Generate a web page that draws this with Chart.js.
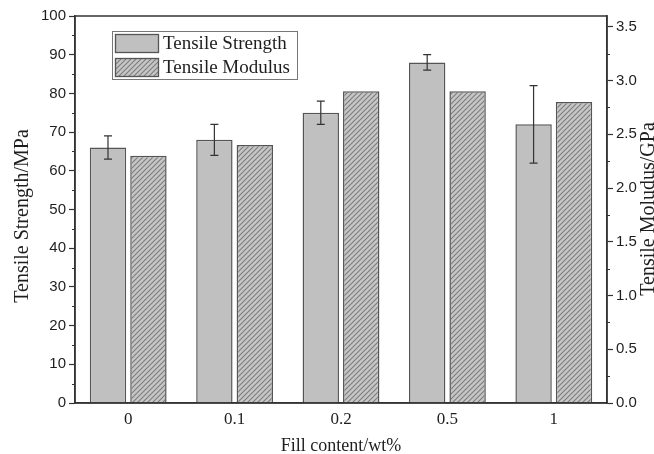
<!DOCTYPE html>
<html>
<head>
<meta charset="utf-8">
<title>Tensile Strength and Modulus vs Fill content</title>
<script src="https://cdn.jsdelivr.net/npm/chart.js"></script>
<style>
    html, body { margin: 0; padding: 0; background: #fff; overflow: hidden; }
    #chart { display: block; }
</style>
</head>
<body>
<canvas id="chart" width="654" height="454"></canvas>
<script>
    // values
    const fillContent = ['0', '0.1', '0.2', '0.5', '1'];
    const strength = [66, 68, 75, 88, 72];        // MPa
    const strengthErr = [3, 4, 3, 2, 10];         // MPa, +/-
    const modulus = [2.3, 2.4, 2.9, 2.9, 2.8];    // GPa

    // axis ticks
    const leftTicks = [0, 10, 20, 30, 40, 50, 60, 70, 80, 90, 100];
    const leftMinor = [5, 15, 25, 35, 45, 55, 65, 75, 85, 95];
    const rightTicks = [0, 0.5, 1.0, 1.5, 2.0, 2.5, 3.0, 3.5];
    const rightMinor = [0.25, 0.75, 1.25, 1.75, 2.25, 2.75, 3.25];

    const AXIS = '#333';
    const TEXT = '#1e1e1e';
    const SERIF = "'Liberation Serif', 'Times New Roman', serif";
    const SANS = "'Liberation Sans', Arial, sans-serif";

    // diagonal hatch for the modulus bars
    function makeHatch() {
        const c = document.createElement('canvas');
        c.width = 5; c.height = 5;
        const g = c.getContext('2d');
        g.fillStyle = '#c6c6c6';
        g.fillRect(0, 0, 5, 5);
        g.strokeStyle = '#7c7c7c';
        g.lineWidth = 1.1;
        g.beginPath();
        g.moveTo(0, 5); g.lineTo(5, 0);
        g.moveTo(-1, 1); g.lineTo(1, -1);
        g.moveTo(4, 6); g.lineTo(6, 4);
        g.stroke();
        return g.createPattern(c, 'repeat');
    }

    // error bars, frame, minor ticks, axis titles, legend
    const decor = {
        id: 'decor',
        afterDatasetsDraw(chart) {
            const { ctx, scales } = chart;
            const meta = chart.getDatasetMeta(0);
            ctx.save();
            ctx.strokeStyle = AXIS;
            ctx.lineWidth = 1.2;
            meta.data.forEach((bar, i) => {
                const hi = scales.y.getPixelForValue(strength[i] + strengthErr[i]);
                const lo = scales.y.getPixelForValue(strength[i] - strengthErr[i]);
                ctx.beginPath();
                ctx.moveTo(bar.x, hi); ctx.lineTo(bar.x, lo);
                ctx.moveTo(bar.x - 4, hi); ctx.lineTo(bar.x + 4, hi);
                ctx.moveTo(bar.x - 4, lo); ctx.lineTo(bar.x + 4, lo);
                ctx.stroke();
            });
            ctx.restore();
        },
        afterDraw(chart) {
            const { ctx, chartArea: a, scales } = chart;
            ctx.save();
            ctx.strokeStyle = AXIS;
            ctx.lineWidth = 1.5;
            ctx.strokeRect(a.left, a.top, a.right - a.left, a.bottom - a.top);

            ctx.lineWidth = 1.2;
            ctx.beginPath();
            leftMinor.forEach(v => {
                const y = Math.round(scales.y.getPixelForValue(v)) + 0.5;
                ctx.moveTo(a.left - 3, y); ctx.lineTo(a.left, y);
            });
            rightMinor.forEach(v => {
                const y = Math.round(scales.y1.getPixelForValue(v)) + 0.5;
                ctx.moveTo(a.right, y); ctx.lineTo(a.right + 3, y);
            });
            ctx.stroke();

            // both y titles read bottom to top
            ctx.fillStyle = TEXT;
            ctx.font = '20px ' + SERIF;
            ctx.textAlign = 'center';
            ctx.textBaseline = 'middle';
            const yTitle = (text, x, y) => {
                ctx.save();
                ctx.translate(x, y);
                ctx.rotate(-Math.PI / 2);
                ctx.fillText(text, 0, 0);
                ctx.restore();
            };
            yTitle('Tensile Strength/MPa', 23, 216);
            yTitle('Tensile Moludus/GPa', 649, 209);
            ctx.restore();

            // legend box inside the plot
            const ds = chart.data.datasets;
            const bx = a.left + 37, by = a.top + 15;
            ctx.save();
            ctx.fillStyle = '#fff';
            ctx.fillRect(bx, by, 185, 48);
            ctx.strokeStyle = '#777';
            ctx.lineWidth = 1;
            ctx.strokeRect(bx + 0.5, by + 0.5, 185, 48);
            ds.forEach((d, i) => {
                const sy = by + 3.5 + i * 24;
                ctx.fillStyle = d.backgroundColor;
                ctx.fillRect(bx + 3.5, sy, 43, 18);
                ctx.strokeStyle = d.borderColor;
                ctx.lineWidth = 1.3;
                ctx.strokeRect(bx + 3.5, sy, 43, 18);
                ctx.fillStyle = TEXT;
                ctx.font = '19px ' + SERIF;
                ctx.textAlign = 'left';
                ctx.textBaseline = 'middle';
                ctx.fillText(d.label, bx + 51, sy + 10);
            });
            ctx.restore();
        }
    };

    const config = {
        type: 'bar',
        data: {
            labels: fillContent,
            datasets: [{
                label: 'Tensile Strength',
                data: strength,
                yAxisID: 'y',
                backgroundColor: '#c0c0c0',
                borderColor: '#555',
                borderWidth: 1.5,
                borderSkipped: 'start'
            }, {
                label: 'Tensile Modulus',
                data: modulus,
                yAxisID: 'y1',
                backgroundColor: makeHatch(),
                borderColor: '#555',
                borderWidth: 1.5,
                borderSkipped: 'start'
            }]
        },
        options: {
            responsive: false,
            animation: false,
            categoryPercentage: 0.76,
            barPercentage: 0.9,
            layout: { padding: { top: 16, left: 0, right: 0, bottom: 0 } },
            plugins: {
                legend: { display: false },
                tooltip: { enabled: false }
            },
            scales: {
                x: {
                    grid: { display: false, drawTicks: false },
                    border: { display: true, color: AXIS, width: 1.5 },
                    ticks: { color: TEXT, font: { family: SERIF, size: 17 }, padding: 6 },
                    title: {
                        display: true,
                        text: 'Fill content/wt%',
                        color: TEXT,
                        font: { family: SERIF, size: 18, lineHeight: 0.9 },
                        padding: { top: 0, bottom: 0 }
                    },
                    afterFit: s => { s.height = 51; }
                },
                y: {
                    position: 'left',
                    min: 0,
                    max: 100,
                    afterBuildTicks: s => { s.ticks = leftTicks.map(v => ({ value: v })); },
                    grid: { drawOnChartArea: false, drawTicks: true, tickLength: 6, color: AXIS, tickColor: AXIS, tickWidth: 1.2 },
                    border: { display: true, color: AXIS, width: 1.5 },
                    ticks: { color: TEXT, font: { family: SANS, size: 15 }, padding: 3 },
                    afterFit: s => { s.width = 75; }
                },
                y1: {
                    position: 'right',
                    min: 0,
                    max: 3.6,
                    afterBuildTicks: s => { s.ticks = rightTicks.map(v => ({ value: v })); },
                    grid: { drawOnChartArea: false, drawTicks: true, tickLength: 6, color: AXIS, tickColor: AXIS, tickWidth: 1.2 },
                    border: { display: true, color: AXIS, width: 1.5 },
                    ticks: {
                        color: TEXT,
                        font: { family: SANS, size: 15 },
                        padding: 3,
                        callback: v => Number(v).toFixed(1)
                    },
                    afterFit: s => { s.width = 47; }
                }
            }
        },
        plugins: [decor]
    };

    window.onload = () => {
        new Chart(document.getElementById('chart').getContext('2d'), config);
    };
</script>
</body>
</html>
